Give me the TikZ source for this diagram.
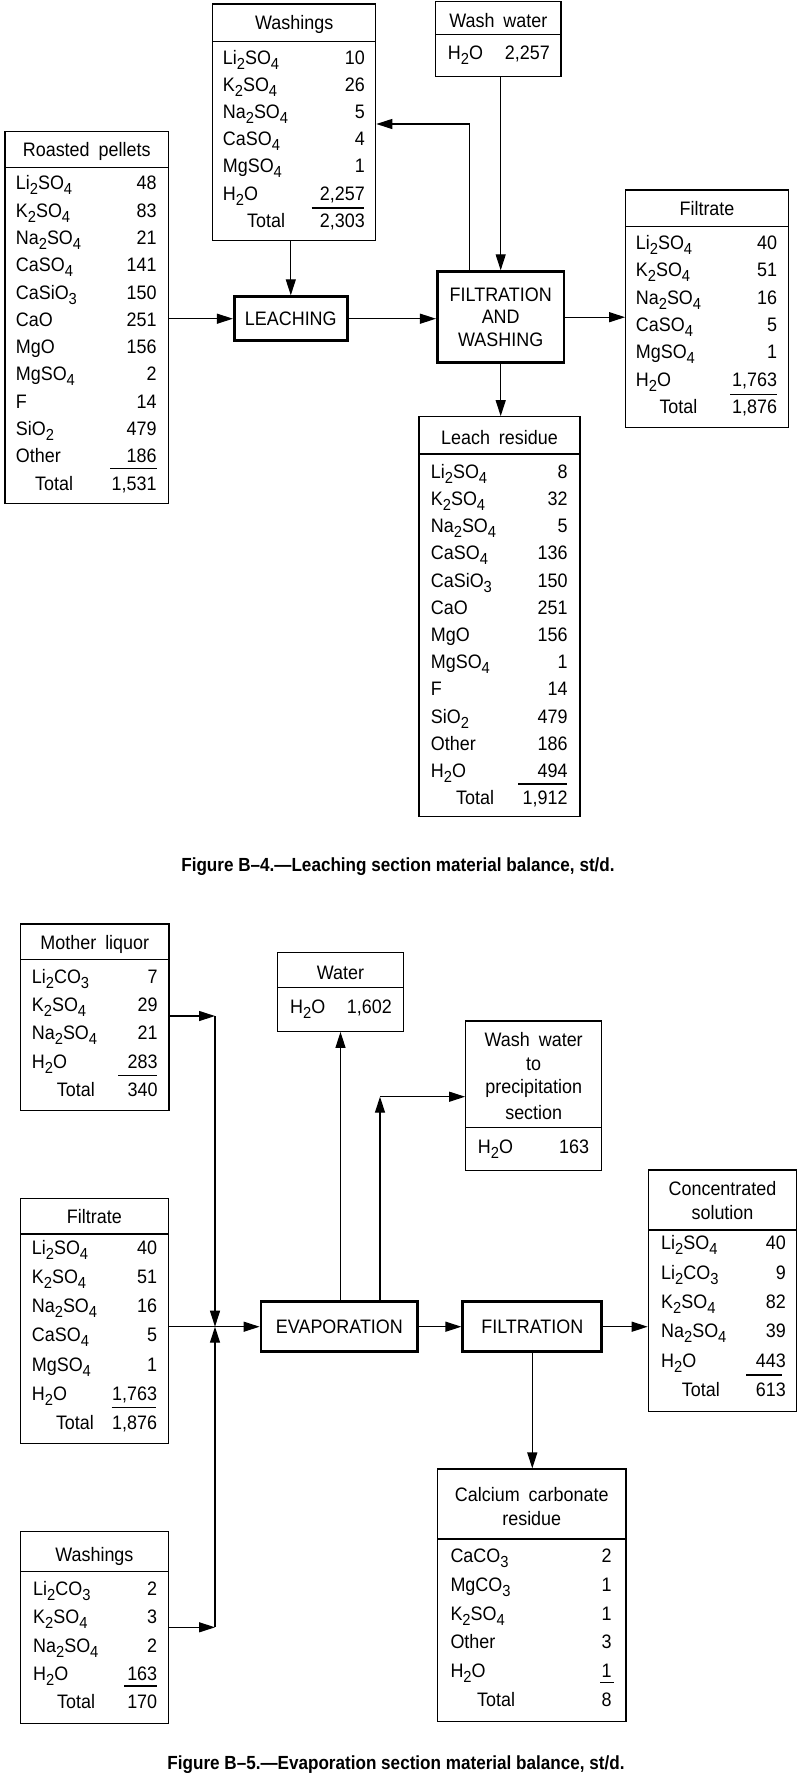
\documentclass[tikz,border=0pt]{standalone}
\usepackage{fontspec}
\setmainfont{Liberation Sans}[FakeStretch=0.92, WordSpace=1.8]
\newfontfamily\capfont{Liberation Sans}[FakeStretch=0.9]
\usepackage{graphicx}
\usetikzlibrary{arrows.meta,fit}
\newcommand\sbs[1]{\raisebox{-5pt}{\fontsize{16}{16}\selectfont #1}}
\tikzset{
  ln/.style={line width=1.2pt},
  tb/.style={draw, line width=1.2pt, inner sep=0pt},
  proc/.style={draw, line width=2.8pt, inner sep=0pt},
  lab/.style={anchor=base west, inner sep=0pt},
  num/.style={anchor=base east, inner sep=0pt},
  ttl/.style={anchor=base, inner sep=0pt},
  capt/.style={anchor=base, inner sep=0pt, font=\capfont\fontsize{19}{19}\selectfont\bfseries},
  arr/.style={line width=1.2pt, -{Triangle[length=16pt,width=10pt]}},
}
\newcommand\tblbox[6]{%
  \node[tb, fit={(#2,#3)(#4,#5)}] (#1) {};
  \draw[ln] (#2,#6) -- (#4,#6);}
\newcommand\tbody[6]{%
  \foreach \lab/\val [count=\i from 0] in {#6} {
    \node[lab] (#1-l\i) at (#2,{#4+#5*\i+6.5}) {\lab};
    \node[num] (#1-n\i) at (#3,{#4+#5*\i+6.5}) {\val};
  }}
\newcommand\ttotal[8]{%
  \node[lab] (#1-tl) at (#2,{#4+6.5}) {Total};
  \node[num] (#1-tv) at (#3,{#4+6.5}) {#5};
  \draw[ln] (#6,#7) -- (#8,#7);}
\begin{document}
\begin{tikzpicture}[x=1pt,y=-1pt,font=\fontsize{19.5}{22.5}\selectfont]
\useasboundingbox (0,0) rectangle (800,1778);
\fill[white] (0,0) rectangle (800,1778);

% ---------------- Figure B-4 ----------------
% Roasted pellets
\tblbox{rp}{5}{131.7}{168.3}{503.3}{167.3}
\node[ttl] (rp-t) at (86.7,156.5) {Roasted pellets};
\tbody{rp}{15.7}{156.7}{183.3}{27.3}{Li\sbs2SO\sbs4/48, K\sbs2SO\sbs4/83, Na\sbs2SO\sbs4/21, CaSO\sbs4/141, CaSiO\sbs3/150, CaO/251, MgO/156, MgSO\sbs4/2, F/14, SiO\sbs2/479, Other/186}
\ttotal{rp}{35}{156.7}{483.6}{1{,}531}{110}{468.3}{156.7}

% Washings
\tblbox{wsh4}{212.7}{4}{375.7}{240.7}{41.7}
\node[ttl] (wsh4-t) at (294.2,29.2) {Washings};
\tbody{wsh4}{222.7}{365}{58}{27.1}{Li\sbs2SO\sbs4/10, K\sbs2SO\sbs4/26, Na\sbs2SO\sbs4/5, CaSO\sbs4/4, MgSO\sbs4/1, H\sbs2O/2{,}257}
\ttotal{wsh4}{247}{365}{220.6}{2{,}303}{311.7}{208}{364}

% Wash water
\tblbox{ww}{435.7}{1.7}{561}{76.7}{34.3}
\node[ttl] (ww-t) at (498.3,27.2) {Wash water};
\node[lab] (ww-l0) at (447.7,59.8) {H\sbs2O};
\node[num] (ww-n0) at (550,59.8) {2{,}257};

% process boxes
\node[proc, minimum width=113pt, minimum height=44pt] (leach) at (290.8,318.7) {LEACHING};
\node[proc, minimum width=126.7pt, minimum height=91pt, align=center] (fw) at (500.7,317.2) {FILTRATION\\AND\\WASHING};

% Filtrate
\tblbox{filt4}{625.7}{190}{788.3}{427.7}{226.7}
\node[ttl] (filt4-t) at (707,215.8) {Filtrate};
\tbody{filt4}{635.7}{777.3}{242.7}{27.4}{Li\sbs2SO\sbs4/40, K\sbs2SO\sbs4/51, Na\sbs2SO\sbs4/16, CaSO\sbs4/5, MgSO\sbs4/1, H\sbs2O/1{,}763}
\ttotal{filt4}{659.3}{777.3}{407.1}{1{,}876}{730}{394.3}{776.7}

% Leach residue
\tblbox{lr}{419}{416.7}{580}{816.7}{454}
\node[ttl] (lr-t) at (499.5,444.8) {Leach residue};
\tbody{lr}{430.7}{567.7}{471.7}{27.2}{Li\sbs2SO\sbs4/8, K\sbs2SO\sbs4/32, Na\sbs2SO\sbs4/5, CaSO\sbs4/136, CaSiO\sbs3/150, CaO/251, MgO/156, MgSO\sbs4/1, F/14, SiO\sbs2/479, Other/186, H\sbs2O/494}
\ttotal{lr}{456}{567.7}{798.1}{1{,}912}{518.3}{784}{567.3}

% connectors B-4
\coordinate (fb) at (469.3,124);
\draw[arr] (rp.east |- leach.west) -- (leach.west);
\draw[arr] (leach.north |- wsh4.south) -- (leach.north);
\draw[arr] (leach.east) -- (leach.east -| fw.west);
\draw[arr] (fw.north |- ww.south) -- (fw.north);
\draw[arr] (fb |- fw.north) -- (fb) -- (fb -| wsh4.east);
\draw[arr] (fw.east) -- (fw.east -| filt4.west);
\draw[arr] (fw.south) -- (fw.south |- lr.north);

\node[capt] (cap4) at (398,871.5) {Figure B–4.—Leaching section material balance, st/d.};

% ---------------- Figure B-5 ----------------
% Mother liquor
\tblbox{ml}{20.7}{924}{169}{1110.7}{959.3}
\node[ttl] (ml-t) at (94.8,949.2) {Mother liquor};
\tbody{ml}{31.7}{157.7}{976.7}{28.3}{Li\sbs2CO\sbs3/7, K\sbs2SO\sbs4/29, Na\sbs2SO\sbs4/21, H\sbs2O/283}
\ttotal{ml}{56.7}{157.7}{1089.9}{340}{118.3}{1075.7}{156.7}

% Water
\tblbox{wat}{277.7}{952.7}{403.3}{1031.3}{987.7}
\node[ttl] (wat-t) at (340.5,979.2) {Water};
\node[lab] (wat-l0) at (290,1013.2) {H\sbs2O};
\node[num] (wat-n0) at (392,1013.2) {1{,}602};

% Wash water to precipitation section
\tblbox{wwp}{465.7}{1021}{601.7}{1170.7}{1127.7}
\node[ttl] (wwp-t1) at (533.7,1046.5) {Wash water};
\node[ttl] (wwp-t2) at (533.7,1070.8) {to};
\node[ttl] (wwp-t3) at (533.7,1093.2) {precipitation};
\node[ttl] (wwp-t4) at (533.7,1119.2) {section};
\node[lab] (wwp-l0) at (477.7,1153.2) {H\sbs2O};
\node[num] (wwp-n0) at (589.3,1153.2) {163};

% Filtrate
\tblbox{filt5}{20.3}{1198.3}{168.5}{1443.3}{1234}
\node[ttl] (filt5-t) at (94.4,1223.2) {Filtrate};
\tbody{filt5}{31.7}{157.3}{1248.3}{29.06}{Li\sbs2SO\sbs4/40, K\sbs2SO\sbs4/51, Na\sbs2SO\sbs4/16, CaSO\sbs4/5, MgSO\sbs4/1, H\sbs2O/1{,}763}
\ttotal{filt5}{55.8}{157.3}{1422.7}{1{,}876}{111.7}{1407.7}{156.3}

% Washings
\tblbox{wsh5}{20.3}{1531.7}{168.5}{1723.3}{1571.7}
\node[ttl] (wsh5-t) at (94.4,1561.5) {Washings};
\tbody{wsh5}{33}{157.4}{1589.3}{28.1}{Li\sbs2CO\sbs3/2, K\sbs2SO\sbs4/3, Na\sbs2SO\sbs4/2, H\sbs2O/163}
\ttotal{wsh5}{56.9}{157.4}{1701.7}{170}{124.4}{1686}{157.4}

% process boxes
\node[proc, minimum width=156.8pt, minimum height=50pt] (evap) at (339.4,1326.7) {EVAPORATION};
\node[proc, minimum width=139pt, minimum height=50pt] (filt) at (532.3,1326.7) {FILTRATION};

% Concentrated solution
\tblbox{cs}{648.3}{1170}{796.7}{1411.7}{1230}
\node[ttl] (cs-t1) at (722.5,1195.8) {Concentrated};
\node[ttl] (cs-t2) at (722.5,1219.2) {solution};
\tbody{cs}{661}{786}{1243.3}{29.3}{Li\sbs2SO\sbs4/40, Li\sbs2CO\sbs3/9, K\sbs2SO\sbs4/82, Na\sbs2SO\sbs4/39, H\sbs2O/443}
\ttotal{cs}{681.7}{786}{1389.8}{613}{746}{1375}{781.7}

% Calcium carbonate residue
\tblbox{ccr}{437.6}{1469}{625.9}{1721.7}{1539}
\node[ttl] (ccr-t1) at (531.75,1501.5) {Calcium carbonate};
\node[ttl] (ccr-t2) at (531.75,1525.8) {residue};
\tbody{ccr}{450.3}{611.7}{1556}{28.8}{CaCO\sbs3/2, MgCO\sbs3/1, K\sbs2SO\sbs4/1, Other/3, H\sbs2O/1}
\ttotal{ccr}{477}{611.7}{1700}{8}{600}{1682.7}{614.2}

% connectors B-5
\coordinate (jn) at (215,1326.7);
\coordinate (mlc) at (215,1016);
\coordinate (wsc) at (215,1627.3);
\coordinate (wc) at (380,1096.7);
\draw[arr] (ml.east |- mlc) -- (mlc);
\draw[arr] (mlc) -- (jn);
\draw[arr] (wsh5.east |- wsc) -- (wsc);
\draw[arr] (wsc) -- (jn);
\draw[arr] (filt5.east |- evap.west) -- (evap.west);
\draw[arr] (evap.north -| wat.south) -- (wat.south);
\draw[arr] (evap.north -| wc) -- (wc);
\draw[arr] (wc) -- (wc -| wwp.west);
\draw[arr] (evap.east) -- (filt.west);
\draw[arr] (filt.east) -- (filt.east -| cs.west);
\draw[arr] (filt.south) -- (filt.south |- ccr.north);

\node[capt] (cap5) at (396,1769.5) {Figure B–5.—Evaporation section material balance, st/d.};
\end{tikzpicture}
\end{document}
